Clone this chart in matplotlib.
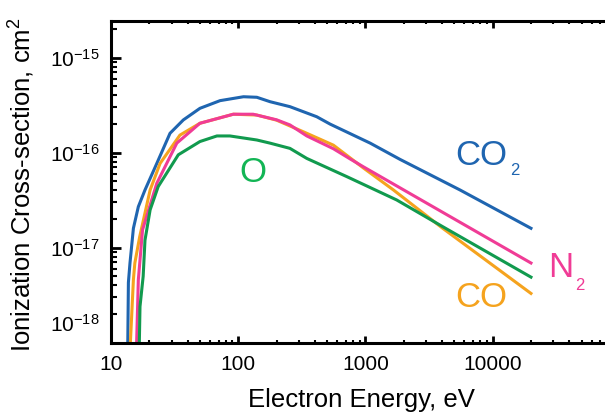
import matplotlib
matplotlib.use('Agg')
import matplotlib.pyplot as plt
from matplotlib.ticker import LogLocator, NullFormatter

plt.rcParams['font.family'] = ['Liberation Sans', 'DejaVu Sans']
plt.rcParams['mathtext.fontset'] = 'custom'
plt.rcParams['mathtext.rm'] = 'Liberation Sans'
plt.rcParams['mathtext.it'] = 'Liberation Sans:italic'
plt.rcParams['mathtext.bf'] = 'Liberation Sans:bold'
plt.rcParams['mathtext.default'] = 'regular'

# ---- data (electron energy in eV, cross-section in cm^2) ----
co2_E = [13.5, 13.55, 13.7, 14.1, 15.0, 16.4, 18.5, 22.9, 29.1, 37, 50, 72, 110, 140,
         178, 255, 414, 527, 1090, 1870, 5540, 20000]
co2_s = [1e-19, 1.0e-18, 4.3e-18, 6.9e-18, 1.6e-17, 2.7e-17, 4.05e-17, 7.7e-17, 1.6e-16,
         2.21e-16, 2.93e-16, 3.53e-16, 3.88e-16, 3.83e-16, 3.44e-16, 3.05e-16, 2.39e-16,
         2.0e-16, 1.26e-16, 8.5e-17, 4.05e-17, 1.6e-17]

co_E = [14.1, 14.2, 15.0, 15.4, 16.8, 20.3, 24.3, 34.8, 50, 91.5, 140, 200, 325, 560,
        964, 1660, 4000, 20000]
co_s = [1e-19, 1e-18, 4.6e-18, 6.9e-18, 1.3e-17, 4.05e-17, 7.7e-17, 1.53e-16, 2.04e-16,
        2.54e-16, 2.49e-16, 2.2e-16, 1.66e-16, 1.2e-16, 6.9e-17, 4.05e-17,
        1.62e-17, 3.3e-18]

n2_E = [15.8, 15.9, 16.4, 17.7, 22.9, 32.9, 50, 91.5, 131, 200, 255, 346, 560, 757,
        964, 20000]
n2_s = [1e-19, 1.0e-18, 4.6e-18, 1.54e-17, 4.76e-17, 1.26e-16, 2.04e-16, 2.54e-16,
        2.54e-16, 2.22e-16, 1.96e-16, 1.5e-16, 1.1e-16, 8.6e-17, 7.1e-17, 6.9e-18]

o_E = [16.5, 16.7, 16.9, 17.9, 18.5, 20.3, 23.5, 33.8, 50, 68, 86, 140, 178, 255, 346,
       713, 1760, 4000, 20000]
o_s = [1e-19, 1e-18, 2.4e-18, 5e-18, 1.2e-17, 2.5e-17, 4.4e-17, 9.5e-17, 1.31e-16,
       1.5e-16, 1.5e-16, 1.36e-16, 1.26e-16, 1.11e-16, 8.7e-17, 5.6e-17, 3.18e-17,
       1.68e-17, 4.9e-18]

x_ticks = [10, 100, 1000, 10000]
x_ticklabels = ['10', '100', '1000', '10000']
y_ticks = [1e-18, 1e-17, 1e-16, 1e-15]
y_ticklabels = [r'$10^{-18}$', r'$10^{-17}$', r'$10^{-16}$', r'$10^{-15}$']

c_blue = '#1f65b0'
c_orange = '#f5a31e'
c_pink = '#f03c96'
c_green = '#119a4e'
c_green_lbl = '#13b555'

fig = plt.figure(figsize=(6.05, 4.13), dpi=100)
ax = fig.add_axes([111 / 605, 70.3 / 413, 493 / 605, 322 / 413])

lw = 2.2
ax.plot(co2_E, co2_s, color=c_blue, lw=lw, solid_joinstyle='round')
ax.plot(co_E, co_s, color=c_orange, lw=lw, solid_joinstyle='round')
ax.plot(n2_E, n2_s, color=c_pink, lw=lw, solid_joinstyle='round')
ax.plot(o_E, o_s, color=c_green, lw=lw, solid_joinstyle='round')

ax.set_xscale('log')
ax.set_yscale('log')
ax.set_xlim(10, 7.5e4)
ax.set_ylim(1e-18, 2.45e-15)

for s in ['left', 'bottom', 'top']:
    ax.spines[s].set_linewidth(2.2)
ax.spines['right'].set_visible(False)

ax.set_xticks(x_ticks)
ax.set_xticklabels(x_ticklabels, fontsize=15)
ax.xaxis.set_minor_locator(LogLocator(base=10, subs=range(2, 10), numticks=20))
ax.xaxis.set_minor_formatter(NullFormatter())

ax.set_yticks(y_ticks)
ax.set_yticklabels([''] + y_ticklabels[1:], fontsize=15)
ax.yaxis.set_minor_locator(LogLocator(base=10, subs=range(2, 10), numticks=20))
ax.yaxis.set_minor_formatter(NullFormatter())

ax.tick_params(which='both', direction='in', top=True, right=False)
ax.tick_params(axis='y', which='major', length=7.5, width=2.0, pad=8)
ax.tick_params(axis='y', which='minor', length=4.2, width=1.5)
ax.tick_params(axis='x', which='major', length=4.7, width=2.0, pad=9)
ax.tick_params(axis='x', which='minor', length=2.5, width=1.5)

# lowest y label sits raised above the x axis
ax.annotate(y_ticklabels[0], xy=(0, y_ticks[0]), xycoords=('axes fraction', 'data'),
            xytext=(-8, 14.5), textcoords='offset points', ha='right',
            va='center_baseline', fontsize=15)

ax.set_xlabel('Electron Energy, eV', fontsize=18.5)
ax.xaxis.set_label_coords(0.507, -0.142)
ax.set_ylabel('Ionization Cross-section, cm$^2$', fontsize=18.5)
ax.yaxis.set_label_coords(-0.150, 0.49)

# curve labels
big = 25
small = 12
ax.text(5060, 7.4e-17, 'CO', color=c_blue, fontsize=big, ha='left', va='baseline')
ax.text(13830, 5.83e-17, '2', color=c_blue, fontsize=small, ha='left', va='baseline')
ax.text(27300, 4.92e-18, 'N', color=c_pink, fontsize=big, ha='left', va='baseline')
ax.text(44500, 3.59e-18, '2', color=c_pink, fontsize=small, ha='left', va='baseline')
ax.text(5060, 2.38e-18, 'CO', color=c_orange, fontsize=big, ha='left', va='baseline')
ax.text(103, 4.92e-17, 'O', color=c_green_lbl, fontsize=big, ha='left', va='baseline')

fig.savefig('out.png', dpi=100, facecolor='white')
